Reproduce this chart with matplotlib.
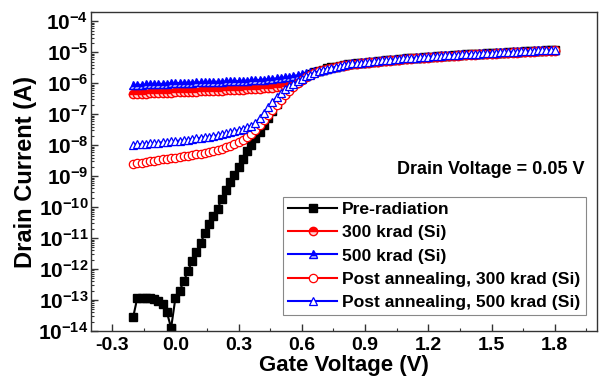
import numpy as np
import matplotlib
matplotlib.use('Agg')
import matplotlib.pyplot as plt
from matplotlib.ticker import FixedLocator, FuncFormatter, LogLocator, NullFormatter, MultipleLocator

plt.rcParams['font.family'] = 'Liberation Sans'
plt.rcParams['font.weight'] = 'bold'
plt.rcParams['mathtext.fontset'] = 'custom'
plt.rcParams['mathtext.rm'] = 'Liberation Sans:bold'
plt.rcParams['mathtext.bf'] = 'Liberation Sans:bold'

# gate voltage sweep, -0.2 V .. 1.8 V
gate_v = np.round(np.arange(101) * 0.02 - 0.2, 2)

# log10 of drain current (A)
pre_rad = [-13.55, -12.92, -12.92, -12.93, -12.95, -12.98, -13.03, -13.12, -13.40, -13.90,
           -12.95, -12.70, -12.40, -12.05, -11.75, -11.45, -11.15, -10.85, -10.55, -10.30,
           -10.05, -9.75, -9.45, -9.20, -8.95, -8.70, -8.45, -8.20, -7.98, -7.78,
           -7.56, -7.35, -7.12, -6.90, -6.68, -6.48, -6.30, -6.15, -6.03, -5.93,
           -5.84, -5.77, -5.71, -5.65, -5.60, -5.56, -5.52, -5.49, -5.46, -5.44,
           -5.41, -5.39, -5.37, -5.36, -5.34, -5.33, -5.31, -5.30, -5.29, -5.27,
           -5.26, -5.25, -5.24, -5.23, -5.21, -5.20, -5.19, -5.18, -5.17, -5.16,
           -5.15, -5.14, -5.13, -5.12, -5.11, -5.11, -5.10, -5.09, -5.08, -5.07,
           -5.06, -5.06, -5.05, -5.04, -5.03, -5.03, -5.02, -5.01, -5.01, -5.00,
           -4.99, -4.99, -4.98, -4.97, -4.97, -4.96, -4.95, -4.95, -4.94, -4.94, -4.93]

krad300 = [-6.36, -6.35, -6.34, -6.34, -6.33, -6.32, -6.32, -6.31, -6.31, -6.30,
           -6.29, -6.29, -6.28, -6.28, -6.27, -6.27, -6.26, -6.26, -6.25, -6.25,
           -6.24, -6.24, -6.23, -6.23, -6.22, -6.21, -6.21, -6.20, -6.19, -6.18,
           -6.17, -6.16, -6.15, -6.14, -6.13, -6.12, -6.10, -6.08, -6.06, -6.00,
           -5.88, -5.80, -5.73, -5.67, -5.62, -5.57, -5.53, -5.50, -5.47, -5.45,
           -5.43, -5.41, -5.39, -5.38, -5.36, -5.35, -5.33, -5.32, -5.31, -5.29,
           -5.28, -5.27, -5.26, -5.25, -5.23, -5.22, -5.21, -5.20, -5.19, -5.18,
           -5.17, -5.16, -5.15, -5.14, -5.13, -5.13, -5.12, -5.11, -5.10, -5.09,
           -5.08, -5.08, -5.07, -5.06, -5.05, -5.05, -5.04, -5.03, -5.03, -5.02,
           -5.01, -5.01, -5.00, -4.99, -4.99, -4.98, -4.97, -4.97, -4.96, -4.96, -4.95]

krad500 = [-6.07, -6.06, -6.05, -6.04, -6.03, -6.03, -6.02, -6.02, -6.01, -6.00,
           -6.00, -5.99, -5.99, -5.98, -5.98, -5.97, -5.97, -5.96, -5.96, -5.95,
           -5.95, -5.95, -5.94, -5.94, -5.93, -5.93, -5.92, -5.92, -5.91, -5.90,
           -5.89, -5.88, -5.87, -5.86, -5.84, -5.83, -5.81, -5.79, -5.77, -5.74,
           -5.71, -5.68, -5.65, -5.62, -5.59, -5.56, -5.53, -5.50, -5.47, -5.44,
           -5.39, -5.37, -5.35, -5.34, -5.32, -5.31, -5.29, -5.28, -5.27, -5.25,
           -5.24, -5.23, -5.22, -5.21, -5.19, -5.18, -5.17, -5.16, -5.15, -5.14,
           -5.13, -5.12, -5.11, -5.10, -5.09, -5.09, -5.08, -5.07, -5.06, -5.05,
           -5.04, -5.04, -5.03, -5.02, -5.01, -5.01, -5.00, -4.99, -4.99, -4.98,
           -4.97, -4.97, -4.96, -4.95, -4.95, -4.94, -4.93, -4.93, -4.92, -4.92, -4.91]

anneal300 = [-8.60, -8.58, -8.56, -8.54, -8.52, -8.50, -8.48, -8.46, -8.44, -8.42,
             -8.40, -8.38, -8.36, -8.34, -8.32, -8.29, -8.27, -8.24, -8.21, -8.18,
             -8.15, -8.11, -8.07, -8.02, -7.96, -7.90, -7.82, -7.73, -7.63, -7.50,
             -7.35, -7.19, -7.03, -6.87, -6.70, -6.54, -6.39, -6.24, -6.12, -6.00,
             -5.89, -5.80, -5.73, -5.67, -5.62, -5.57, -5.53, -5.50, -5.47, -5.45,
             -5.42, -5.40, -5.38, -5.37, -5.35, -5.34, -5.32, -5.31, -5.30, -5.28,
             -5.27, -5.26, -5.25, -5.24, -5.22, -5.21, -5.20, -5.19, -5.18, -5.17,
             -5.16, -5.15, -5.14, -5.13, -5.12, -5.12, -5.11, -5.10, -5.09, -5.08,
             -5.07, -5.07, -5.06, -5.05, -5.04, -5.04, -5.03, -5.02, -5.02, -5.01,
             -5.00, -5.00, -4.99, -4.98, -4.98, -4.97, -4.96, -4.96, -4.95, -4.95, -4.94]

anneal500 = [-7.98, -7.97, -7.96, -7.95, -7.94, -7.93, -7.92, -7.90, -7.89, -7.88,
             -7.87, -7.85, -7.84, -7.82, -7.80, -7.78, -7.76, -7.74, -7.72, -7.70,
             -7.68, -7.65, -7.62, -7.59, -7.55, -7.51, -7.47, -7.42, -7.37, -7.28,
             -7.12, -6.95, -6.78, -6.61, -6.45, -6.31, -6.19, -6.09, -6.01, -5.93,
             -5.85, -5.78, -5.72, -5.66, -5.61, -5.57, -5.53, -5.50, -5.47, -5.44,
             -5.40, -5.38, -5.36, -5.35, -5.33, -5.32, -5.30, -5.29, -5.28, -5.26,
             -5.25, -5.24, -5.23, -5.22, -5.20, -5.19, -5.18, -5.17, -5.16, -5.15,
             -5.14, -5.13, -5.12, -5.11, -5.10, -5.10, -5.09, -5.08, -5.07, -5.06,
             -5.05, -5.05, -5.04, -5.03, -5.02, -5.02, -5.01, -5.00, -5.00, -4.99,
             -4.98, -4.98, -4.97, -4.96, -4.96, -4.95, -4.94, -4.94, -4.93, -4.93, -4.92]

fig = plt.figure(figsize=(5.99, 3.86), dpi=100)
ax = fig.add_axes([91/599, 55/386, 506/599, 319/386])

ms = 6
ax.plot(gate_v, 10**np.array(pre_rad), color='black', marker='s', ms=6, lw=1.5,
        label='Pre-radiation')
ax.plot(gate_v, 10**np.array(krad300), color='red', marker='o', ms=ms, lw=1.5, mew=1,
        fillstyle='top', markerfacecoloralt='#ffd0d0', label='300 krad (Si)')
ax.plot(gate_v, 10**np.array(krad500), color='blue', marker='^', ms=ms, lw=1.5, mew=1,
        fillstyle='top', markerfacecoloralt='#b8bcff', label='500 krad (Si)')
ax.plot(gate_v, 10**np.array(anneal300), color='red', marker='o', ms=ms, lw=1.5, mew=0.9,
        markerfacecolor='white', label='Post annealing, 300 krad (Si)')
ax.plot(gate_v, 10**np.array(anneal500), color='blue', marker='^', ms=ms, lw=1.5, mew=0.9,
        markerfacecolor='white', label='Post annealing, 500 krad (Si)')

ax.set_yscale('log')
ax.set_ylim(1e-14, 2e-4)
ax.set_xlim(-0.4, 2.0)

ax.xaxis.set_major_locator(FixedLocator([-0.3, 0.0, 0.3, 0.6, 0.9, 1.2, 1.5, 1.8]))
ax.xaxis.set_minor_locator(MultipleLocator(0.15))
ax.xaxis.set_major_formatter(FuncFormatter(lambda v, p: '%.1f' % v))
ax.yaxis.set_major_locator(FixedLocator([10.0**k for k in range(-14, -3)]))
ax.yaxis.set_minor_locator(LogLocator(base=10, subs=np.arange(2, 10), numticks=30))
ax.yaxis.set_minor_formatter(NullFormatter())
ax.yaxis.set_major_formatter(FuncFormatter(
    lambda v, p: r'$\mathbf{10^{%d}}$' % int(round(np.log10(v)))))

ax.tick_params(which='both', direction='in', top=False, right=False, colors='#333333',
               labelcolor='black')
ax.tick_params(which='major', length=5, width=1)
ax.tick_params(which='minor', length=2.5, width=0.8)
ax.tick_params(axis='x', labelsize=14, pad=4)
ax.tick_params(axis='y', labelsize=15, pad=2)
for sp in ax.spines.values():
    sp.set_color('#333333')
    sp.set_linewidth(1)

ax.set_xlabel('Gate Voltage (V)', fontsize=16, fontweight='bold', labelpad=1)
ax.set_ylabel('Drain Current (A)', fontsize=17, fontweight='bold', labelpad=1)

ax.text(0.975, 0.505, 'Drain Voltage = 0.05 V', transform=ax.transAxes, ha='right',
        va='center', fontsize=13, fontweight='bold')

leg = ax.legend(loc='lower right', bbox_to_anchor=(0.978, 0.05), borderaxespad=0,
                fontsize=12.6, fancybox=False, edgecolor='#888888', handlelength=2.8,
                handletextpad=0.3, labelspacing=0.45, borderpad=0.3, framealpha=1)
leg.get_frame().set_linewidth(0.8)

fig.savefig('out.png', dpi=100)
